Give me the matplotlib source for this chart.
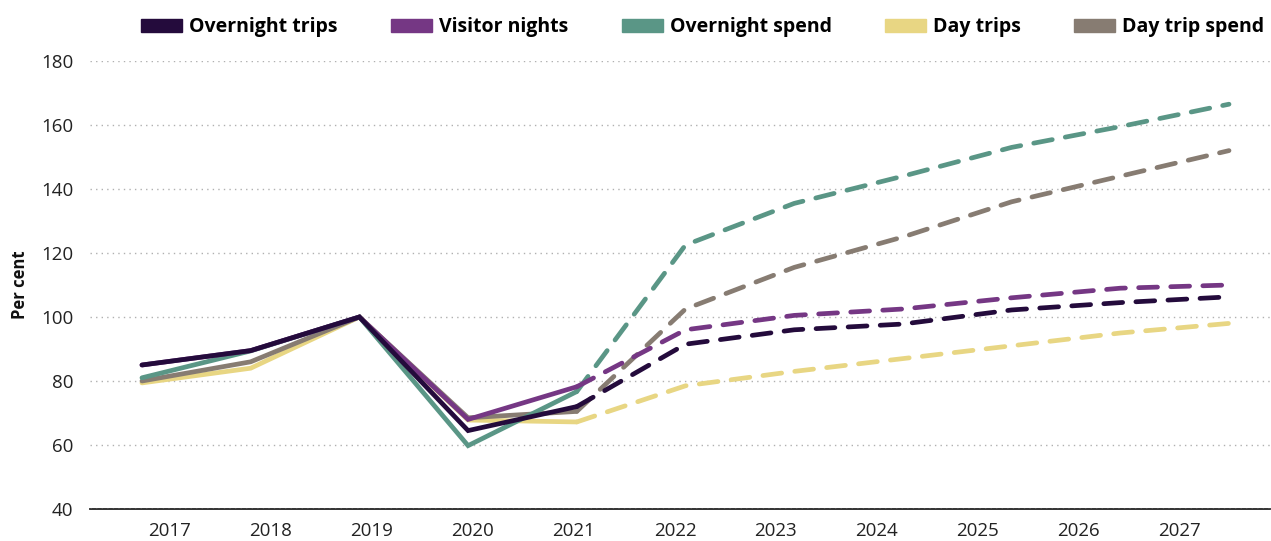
import numpy as np
import matplotlib.pyplot as plt
from matplotlib.patches import Patch

# Index (2019 = 100), actuals 2017-2021, forecasts 2021-2027
years = [str(y) for y in range(2017, 2028)]

overnight_trips_actual = [85, 89.5, 100, 64.5, 72]
overnight_trips_forecast = [72, 91.5, 96, 97.8, 102.2, 104.5, 106.3]
visitor_nights_actual = [85, 89.5, 100, 68, 78.2]
visitor_nights_forecast = [78.2, 96, 100.5, 102.5, 106, 109, 110]
overnight_spend_actual = [81, 89.4, 100, 59.8, 76.7]
overnight_spend_forecast = [76.7, 122.5, 135.5, 144, 153, 159.5, 166.5]
day_trips_actual = [79.4, 84, 100, 67.8, 67.2]
day_trips_forecast = [67.2, 78.5, 83, 87, 91, 95, 98]
day_trip_spend_actual = [80, 86, 100, 68.5, 70.5]
day_trip_spend_forecast = [70.5, 102.5, 115.5, 125, 136, 144, 152]

c_trips = "#240b3c"
c_nights = "#753784"
c_spend = "#5a9686"
c_day = "#e8d683"
c_dayspend = "#877c72"

plt.rcParams['font.family'] = ['Open Sans', 'DejaVu Sans']

fig = plt.figure(figsize=(12.71, 5.41), dpi=100)
ax = fig.add_axes([90 / 1271, 1 - 509 / 541, 1180 / 1271, 448 / 541])

x_act = np.arange(0, 5)
x_fc = np.arange(4, 11)

series = [
    (day_trips_actual, day_trips_forecast, c_day),
    (day_trip_spend_actual, day_trip_spend_forecast, c_dayspend),
    (overnight_spend_actual, overnight_spend_forecast, c_spend),
    (visitor_nights_actual, visitor_nights_forecast, c_nights),
    (overnight_trips_actual, overnight_trips_forecast, c_trips),
]
lw = 3.4
for act, fc, col in series:
    ax.plot(x_act, act, color=col, lw=lw, solid_capstyle='round', solid_joinstyle='miter')
    ax.plot(x_fc, fc, color=col, lw=lw, dashes=(4, 2.8), dash_capstyle='round')

ax.set_ylim(40, 180)
ax.set_yticks(range(40, 181, 20))
ax.set_xlim(-0.478, 10.377)

# category labels sit slightly offset from the data points in the original
label_pos = 0.258 + 0.929 * np.arange(len(years))
ax.set_xticks(label_pos)
ax.set_xticklabels(years)

ax.tick_params(axis='both', length=0, labelsize=13.5, colors='#222222')
ax.tick_params(axis='y', pad=12)
ax.tick_params(axis='x', pad=9)

ax.grid(axis='y', linestyle=(0, (1, 3)), color='#b0b0b0', lw=1.0)
ax.set_axisbelow(True)
for s in ['top', 'right', 'left']:
    ax.spines[s].set_visible(False)
ax.spines['bottom'].set_color('#222222')
ax.spines['bottom'].set_linewidth(1.3)
ax.spines['bottom'].set_zorder(0.5)

ax.set_ylabel("Per cent", fontsize=12, fontweight='bold', color='#111111')
ax.yaxis.set_label_coords(-0.052, 0.5)

handles = [
    Patch(color=c_trips, label="Overnight trips"),
    Patch(color=c_nights, label="Visitor nights"),
    Patch(color=c_spend, label="Overnight spend"),
    Patch(color=c_day, label="Day trips"),
    Patch(color=c_dayspend, label="Day trip spend"),
]
fig.legend(handles=handles, loc='center', bbox_to_anchor=(0.553, 0.950), ncol=5,
           frameon=False, handlelength=2.1, handleheight=0.65, handletextpad=0.36,
           columnspacing=2.75, prop={'weight': 'bold', 'size': 14})

fig.savefig("out.png", dpi=100)
